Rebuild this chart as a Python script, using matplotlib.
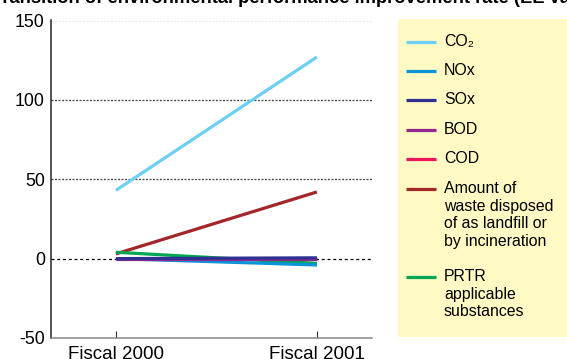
import matplotlib
matplotlib.use("Agg")
import matplotlib.pyplot as plt
from matplotlib.patches import Rectangle

plt.rcParams['font.family'] = ['Liberation Sans', 'DejaVu Sans']
plt.rcParams['axes.unicode_minus'] = False

# data (EE value)
years = ["Fiscal 2000", "Fiscal 2001"]
series_names = ["CO₂", "NOx", "SOx", "BOD", "COD",
                "Amount of\nwaste disposed\nof as landfill or\nby incineration",
                "PRTR\napplicable\nsubstances"]
co2 = [43, 127]
nox = [0, -4]
sox = [0, 0.5]
bod = [0, 0]
cod = [0, -0.5]
waste = [3, 42]
prtr = [4, -3]
colors = ["#6DCFF6", "#0A93D6", "#2E3192", "#92278F", "#ED145B", "#A3262A", "#00A651"]

W, H = 567, 359
fig = plt.figure(figsize=(W / 100, H / 100), dpi=100)
ax = fig.add_axes([51 / W, 1 - 338 / H, (372 - 51) / W, (338 - 20.5) / H])

x = list(range(len(years)))
all_series = [co2, nox, sox, bod, cod, waste, prtr]
# draw in an order so the small ones overlap like the original
order = [0, 5, 6, 1, 4, 3, 2]
for i in order:
    ax.plot(x, all_series[i], color=colors[i], lw=2.3, solid_capstyle='butt', zorder=3)

ax.set_xlim(-0.323, 1.274)
ax.set_ylim(-50, 150)
ax.set_yticks([-50, 0, 50, 100, 150])
ax.set_xticks(x)
ax.set_xticklabels(years, fontsize=13.5)
ax.tick_params(axis='y', length=0, labelsize=12.8, pad=4.5)
ax.tick_params(axis='x', direction='in', length=5, width=0.8, color='#333333', pad=6)

for v in [50, 100, 150]:
    ax.axhline(v, color='#444444', lw=0.9, ls=(0, (1.6, 1.2)), zorder=1)
ax.axhline(0, color='black', lw=0.9, ls=(0, (2.4, 2.2)), zorder=1)

for s in ['top', 'right']:
    ax.spines[s].set_visible(False)
ax.spines['left'].set_linewidth(1.1)
ax.spines['bottom'].set_linewidth(1.1)
ax.spines['left'].set_color('#222222')
ax.spines['bottom'].set_color('#888888')

# title cut off at the top of the image
fig.text(-8 / W, 1 - 3 / H, "Transition of environmental performance improvement rate (EE value)",
         fontsize=13.2, fontweight='bold', va='baseline', ha='left')

# legend box drawn by hand
lg = fig.add_axes([0, 0, 1, 1], facecolor='none')
lg.set_xlim(0, W)
lg.set_ylim(H, 0)
lg.set_axis_off()
lg.add_patch(Rectangle((398, 19), W - 398, 318, facecolor='#FFF9C4', edgecolor='none'))
leg_y = [42, 71, 100, 130, 159, 189, 277]
for name, c, yy in zip(series_names, colors, leg_y):
    lg.plot([406, 436], [yy, yy], color=c, lw=2.3, solid_capstyle='butt')
    lg.text(444, yy - 7.8, name, fontsize=11.4, va='top', ha='left', linespacing=1.22)

fig.savefig("out.png", dpi=100)
